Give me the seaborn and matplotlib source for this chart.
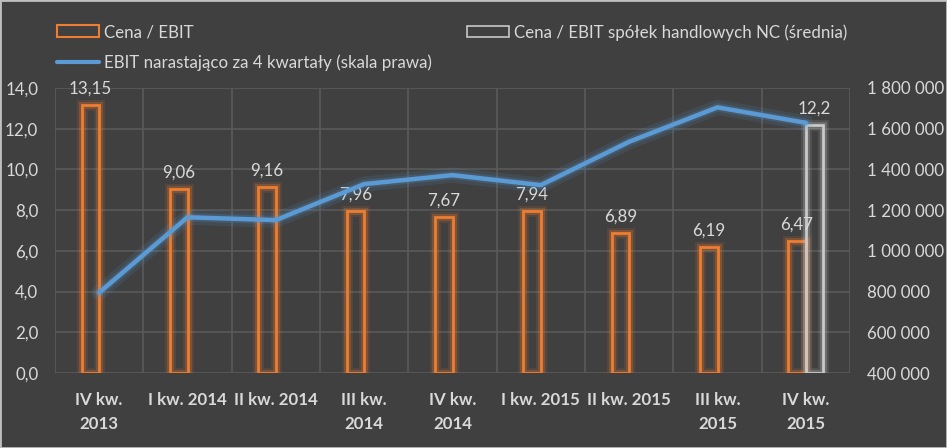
import numpy as np
import pandas as pd
import matplotlib
matplotlib.use("Agg")
import matplotlib.pyplot as plt
import matplotlib.patheffects as pe
import seaborn as sns
from matplotlib.patches import Rectangle
from matplotlib.lines import Line2D
from matplotlib.ticker import FuncFormatter

# ---------------- data ----------------
categories = ["IV kw.\n2013", "I kw. 2014", "II kw. 2014", "III kw.\n2014", "IV kw.\n2014",
              "I kw. 2015", "II kw. 2015", "III kw.\n2015", "IV kw.\n2015"]
cena_ebit = [13.15, 9.06, 9.16, 7.96, 7.67, 7.94, 6.89, 6.19, 6.47]
nc_categories = ["IV kw.\n2015"]
nc_avg = [12.2]
ebit_4q = [795000, 1165000, 1151000, 1328000, 1372000, 1323000, 1536000, 1705000, 1629000]

s_bar = "Cena / EBIT"
s_nc = "Cena / EBIT spółek handlowych NC (średnia)"
s_line = "EBIT narastająco za 4 kwartały (skala prawa)"

left_ticks = [0, 2, 4, 6, 8, 10, 12, 14]
right_ticks = [400000, 600000, 800000, 1000000, 1200000, 1400000, 1600000, 1800000]

# ---------------- style ----------------
BG = "#404040"
TXT = "#d9d9d9"
GRID = "#5a5a5a"
ORANGE = "#ED7D31"
GRAY = "#c8c8c8"
BLUE = "#5B9BD5"
FONT = "Lato"
FS = 12.2

sns.set_theme(style="dark")
plt.rcParams["font.family"] = [FONT, "DejaVu Sans"]

df = pd.DataFrame({
    "kw": categories + nc_categories,
    "val": cena_ebit + nc_avg,
    "series": [s_bar] * len(cena_ebit) + [s_nc] * len(nc_avg),
})

fig = plt.figure(figsize=(9.47, 4.48), dpi=100, facecolor=BG)
ax = fig.add_axes([55 / 947, 1 - 373 / 448, 795 / 947, 285 / 448])
ax.set_facecolor(BG)

sns.barplot(data=df, x="kw", y="val", hue="series", order=categories,
            hue_order=[s_bar, s_nc], palette=[ORANGE, GRAY], width=0.4, gap=0,
            saturation=1, errorbar=None, legend=False, ax=ax)

for cont, col, vals in zip(ax.containers, [ORANGE, GRAY], [cena_ebit, nc_avg]):
    for p in cont.patches:
        p.set_facecolor("none")
        p.set_edgecolor(col)
        p.set_linewidth(2)
        p.set_zorder(3)
        p.set_path_effects([pe.Stroke(linewidth=8, foreground=col, alpha=0.12),
                            pe.Stroke(linewidth=5, foreground=col, alpha=0.25),
                            pe.Normal()])
    labels = [f"{v:g}".replace(".", ",") for v in vals]
    txts = ax.bar_label(cont, labels=labels, padding=6, color=TXT, fontsize=FS)
    for t in txts:
        t.set_clip_on(False)

ax.set_ylim(0, 14)
ax.set_yticks(left_ticks)
ax.yaxis.set_major_formatter(FuncFormatter(lambda v, p: f"{v:.1f}".replace(".", ",")))
ax.set_xlim(-0.5, len(categories) - 0.5)
ax.set_xticks(np.arange(-0.5, len(categories), 1), minor=True)
ax.grid(axis="y", which="major", color=GRID, lw=1.2)
ax.grid(axis="x", which="minor", color=GRID, lw=1.2)
ax.grid(axis="x", which="major", visible=False)
ax.set_axisbelow(True)
ax.set_xlabel("")
ax.set_ylabel("")
for s in ax.spines.values():
    s.set_visible(False)
ax.tick_params(axis="y", length=0, pad=12, labelcolor=TXT, labelsize=FS)
ax.tick_params(axis="x", which="both", length=0, pad=14, labelcolor=TXT, labelsize=FS)
for t in ax.get_xticklabels():
    t.set_fontweight("bold")
    t.set_linespacing(1.55)

ax2 = ax.twinx()
sns.lineplot(x=np.arange(len(categories)), y=ebit_4q, ax=ax2, color=BLUE, lw=3.2,
             path_effects=[pe.Stroke(linewidth=11, foreground=BLUE, alpha=0.12),
                           pe.Stroke(linewidth=6, foreground=BLUE, alpha=0.2),
                           pe.Normal()])
ax2.set_ylim(400000, 1800000)
ax2.set_yticks(right_ticks)
ax2.yaxis.set_major_formatter(FuncFormatter(lambda v, p: f"{int(v):,}".replace(",", " ")))
ax2.tick_params(axis="y", length=0, pad=12, labelcolor=TXT, labelsize=FS)
ax2.grid(False)
for s in ax2.spines.values():
    s.set_visible(False)
ax2.set_ylabel("")
ax.set_xlim(-0.5, len(categories) - 0.5)

# ---------------- legend ----------------
h_bar = Rectangle((0, 0), 1, 1, facecolor="none", edgecolor=ORANGE, lw=1.5)
h_nc = Rectangle((0, 0), 1, 1, facecolor="none", edgecolor=GRAY, lw=1.2)
h_line = Line2D([], [], color=BLUE, lw=3)
leg_kw = dict(frameon=False, fontsize=FS, labelcolor=TXT, handlelength=2.5,
              handleheight=0.65, handletextpad=0.3, borderpad=0, borderaxespad=0,
              labelspacing=0.85, loc="upper left")
fig.legend([h_bar, h_line], [s_bar, s_line], bbox_to_anchor=(57 / 947, 1 - 24 / 448), **leg_kw)
fig.legend([h_nc], [s_nc], bbox_to_anchor=(467 / 947, 1 - 24 / 448), **leg_kw)

fig.patches.append(Rectangle((0, 0), 1, 1, transform=fig.transFigure, fill=False,
                             edgecolor="#bfbfbf", lw=2, zorder=10))

fig.savefig("out.png", dpi=100, facecolor=BG)
